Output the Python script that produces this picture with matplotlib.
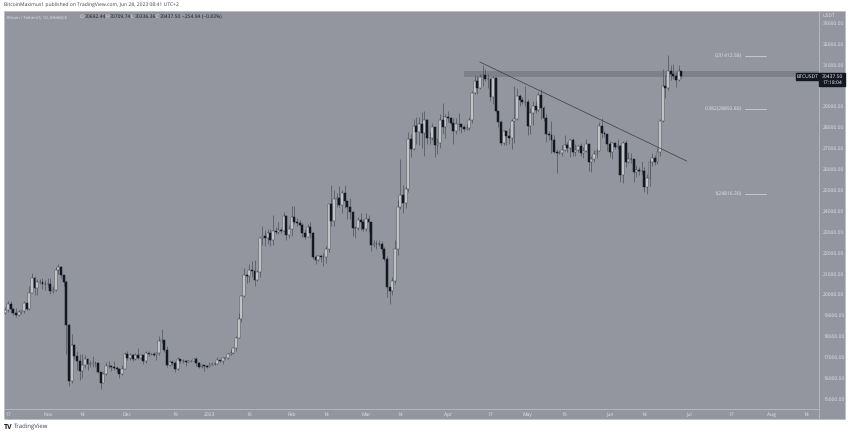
import numpy as np
import pandas as pd
import matplotlib
matplotlib.use("Agg")
import matplotlib.pyplot as plt
import matplotlib.dates as mdates
from matplotlib.patches import Rectangle

# daily candles, 2022-10-16 .. 2023-06-28 per month
close_oct = [19260, 19550, 19330, 19120, 19040, 19160, 19200, 19570, 19330, 20090, 20770, 20290, 20600, 20620, 20490, 20480]
high_oct = [19420, 19680, 19700, 19360, 19340, 19250, 19260, 19690, 19600, 20400, 21020, 20870, 20750, 20720, 20800, 20700]
low_oct = [19070, 19150, 19100, 19020, 18900, 18980, 19060, 19100, 19240, 19240, 20050, 20000, 20000, 20500, 20280, 20200]

close_nov = [20480, 20150, 20200, 21150, 21300, 20920, 20600, 18540, 15880, 17600, 17070, 16810, 16330, 16620, 16900, 16660, 16690, 16700, 16700, 16280, 15780, 16220, 16600, 16600, 16520, 16460, 16430, 16210, 16440, 17160]
high_nov = [20800, 20780, 20400, 21300, 21480, 21350, 20900, 20700, 18600, 18100, 17650, 17300, 17150, 17170, 17120, 16950, 16870, 17050, 16820, 16750, 16250, 16300, 16770, 16800, 16650, 16800, 16600, 16490, 16630, 17240]
low_nov = [20340, 20040, 20050, 20180, 21000, 20800, 20400, 17170, 15600, 15750, 16900, 16370, 15900, 16000, 16500, 16400, 16550, 16550, 16550, 16250, 15500, 15800, 16150, 16480, 16350, 16400, 16300, 16000, 16150, 16430]

close_dec = [16980, 17090, 16890, 17110, 16970, 17090, 16840, 17220, 17130, 17130, 17090, 17210, 17780, 17810, 17360, 16630, 16780, 16740, 16440, 16900, 16820, 16830, 16790, 16830, 16840, 16920, 16700, 16550, 16630, 16600, 16540]
high_dec = [17320, 17190, 17160, 17200, 17430, 17110, 16910, 17290, 17300, 17180, 17260, 17240, 18000, 18370, 17800, 17520, 16800, 16870, 16830, 17000, 16850, 16910, 16860, 16880, 16860, 16950, 16990, 16780, 16640, 16650, 16640]
low_dec = [16850, 16870, 16800, 16880, 16900, 16890, 16680, 16740, 17060, 17090, 17070, 16870, 17090, 17660, 17270, 16540, 16580, 16650, 16300, 16400, 16720, 16710, 16590, 16780, 16790, 16800, 16600, 16460, 16490, 16330, 16470]

close_jan = [16620, 16680, 16670, 16850, 16830, 16950, 16940, 17130, 17190, 17440, 17940, 18850, 19930, 20950, 20880, 21190, 21130, 20680, 21080, 22680, 22780, 22710, 22920, 22630, 23060, 23010, 23080, 23030, 23740, 22830, 23130]
high_jan = [16780, 16770, 16780, 16990, 16880, 17020, 16980, 17180, 17390, 17490, 18000, 19100, 20000, 21260, 21000, 21450, 21600, 21650, 21190, 22750, 23280, 23070, 23150, 23120, 23800, 23240, 23480, 23200, 23950, 23780, 23320]
low_jan = [16530, 16610, 16610, 16660, 16760, 16680, 16910, 16900, 17120, 17160, 17320, 17900, 18700, 19890, 20560, 20600, 20830, 20400, 20650, 20850, 22370, 22300, 22440, 22300, 22370, 22880, 22900, 22940, 23020, 22600, 22720]

close_feb = [23730, 23490, 23430, 23330, 22930, 22760, 23240, 22960, 21800, 21630, 21860, 21780, 21780, 22200, 24330, 23520, 24570, 24630, 24280, 24840, 24450, 24180, 23930, 23190, 23160, 23560, 23490, 23140]
high_feb = [24250, 24220, 23680, 23580, 23430, 23150, 23360, 23450, 23000, 21910, 21900, 21900, 21980, 22310, 24350, 25250, 24980, 24880, 25200, 25000, 25250, 24450, 24600, 23900, 23260, 23690, 23900, 23600]
low_feb = [22800, 23370, 23260, 23260, 22760, 22640, 22730, 22700, 21700, 21450, 21600, 21550, 21360, 21530, 22050, 23300, 23300, 24200, 24200, 23880, 24150, 23600, 23620, 22800, 22700, 23080, 23100, 23050]

close_mar = [23630, 23470, 22350, 22430, 22420, 22410, 22200, 21700, 20360, 20190, 20630, 22160, 24200, 24750, 24380, 25060, 27420, 26970, 28040, 27790, 28170, 27720, 28330, 27480, 27490, 28000, 27140, 27270, 28350, 28030, 28470]
high_mar = [23880, 23780, 23480, 22600, 22600, 22600, 22540, 22270, 21820, 20370, 20850, 22600, 24500, 26500, 25240, 25200, 27770, 27700, 28400, 28500, 28500, 28750, 28800, 28400, 27780, 28200, 28030, 27500, 28650, 29170, 28650]
low_mar = [23030, 23000, 22100, 22250, 22200, 22300, 21950, 21600, 19900, 19550, 20000, 20500, 21900, 24100, 23900, 24150, 24900, 26600, 26900, 27200, 27150, 27000, 26650, 27180, 27200, 27400, 26600, 26700, 27000, 27700, 27500]

close_apr = [28460, 28200, 27800, 28170, 28170, 28030, 27910, 27950, 28330, 29650, 30230, 29880, 30390, 30480, 30300, 30320, 29430, 30380, 28800, 28240, 27260, 27820, 27590, 27510, 28300, 28420, 29480, 29330, 29230, 29230]
high_apr = [28800, 28500, 28450, 28450, 28700, 28180, 28100, 28150, 28500, 29750, 30500, 30450, 30550, 31000, 30800, 30550, 30300, 30450, 30400, 28350, 28370, 27880, 27800, 27980, 28400, 30000, 29900, 29600, 29450, 30000]
low_apr = [28250, 28100, 27200, 27680, 27800, 27750, 27800, 27850, 27850, 28200, 29600, 29600, 29850, 30000, 30200, 29900, 29250, 29100, 28750, 28000, 27150, 27150, 27170, 27200, 26950, 27230, 28370, 29000, 29100, 29000]

close_may = [28070, 28670, 29020, 28840, 29530, 28900, 28450, 27690, 27630, 27390, 26800, 26780, 26780, 26920, 27170, 27030, 27400, 26820, 26890, 27110, 26750, 26850, 27220, 26330, 26470, 26720, 26870, 28080, 27740, 27700, 27210]
high_may = [29350, 28900, 29250, 29250, 29680, 29850, 29000, 28650, 27830, 28300, 27650, 26950, 26900, 27150, 27650, 27280, 27450, 27480, 27180, 27150, 27270, 27050, 27450, 27200, 26630, 26930, 26950, 28250, 28440, 27840, 27350]
low_may = [27650, 27680, 28100, 28700, 28800, 28400, 28300, 27300, 27380, 26750, 26750, 25820, 26720, 26620, 26850, 26800, 26560, 26650, 26650, 26830, 26640, 26550, 26800, 25900, 25880, 26330, 26530, 26850, 27500, 27550, 26850]

close_jun = [26820, 27250, 27070, 27120, 25730, 27230, 26340, 26500, 26480, 25840, 25940, 25900, 25900, 25120, 25590, 26340, 26510, 26340, 26840, 28310, 30000, 29890, 30690, 30530, 30470, 30270, 30690, 30437]
high_jun = [27350, 27300, 27300, 27450, 27130, 27350, 27380, 26800, 26780, 26500, 26200, 26080, 26400, 26100, 25750, 26480, 26770, 26690, 27000, 28400, 30800, 30500, 31450, 31000, 31050, 30650, 31000, 30710]
low_jun = [26600, 26500, 26950, 26950, 25400, 25350, 26100, 26300, 26300, 25400, 25600, 25700, 25750, 24900, 24800, 25170, 26170, 26200, 26250, 26650, 28250, 29400, 29800, 30280, 30300, 29950, 30200, 30340]

closes = close_oct + close_nov + close_dec + close_jan + close_feb + close_mar + close_apr + close_may + close_jun
highs = high_oct + high_nov + high_dec + high_jan + high_feb + high_mar + high_apr + high_may + high_jun
lows = low_oct + low_nov + low_dec + low_jan + low_feb + low_mar + low_apr + low_may + low_jun
first_open = 19100

y_ticks = list(range(15000, 34000, 1000))
x_tick_dates = ["2022-10-17", "2022-11-01", "2022-11-14", "2022-12-01", "2022-12-19", "2023-01-01", "2023-01-16", "2023-02-01",
                "2023-02-14", "2023-03-01", "2023-03-14", "2023-04-01", "2023-04-17", "2023-05-01", "2023-05-15", "2023-06-01",
                "2023-06-14", "2023-07-01", "2023-07-17", "2023-08-01", "2023-08-14"]
x_tick_labels = ["17", "Nov", "14", "Dec", "19", "2023", "16", "Feb", "14", "Mar", "14", "Apr", "17", "May", "15", "Jun", "14", "Jul", "17", "Aug", "14"]

band_start = "2023-04-07"
band_low, band_high = 30392, 30694
trend_dates = ["2023-04-13", "2023-06-30"]
trend_prices = [31124, 26388]
fib_labels = ["0(31412.58)", "0.382(28892.80)", "1(24816.30)"]
fib_prices = [31412.58, 28892.80, 24816.30]
fib_dates = ["2023-07-22", "2023-07-30"]
last_price = 30437.50

W, H = 850, 434
PANEL = "#93969f"
GRID = "#b5b8c0"
LIGHT = "#e4e5e9"
DARK = "#131722"
FS = 3.5


def fx(px):
    return px / W


def fy(px):
    return 1 - px / H


def day(s):
    return mdates.date2num(pd.Timestamp(s))


plt.rcParams["font.family"] = "Open Sans"
plt.rcParams["text.hinting"] = "no_hinting"
plt.rcParams["text.hinting_factor"] = 1

fig = plt.figure(figsize=(W / 100, H / 100), dpi=100, facecolor="white")
fig.add_artist(Rectangle((fx(4), fy(419)), fx(841), 408 / H, transform=fig.transFigure, facecolor=PANEL, edgecolor=GRID, lw=0.4, zorder=-1))

left, right, top, bottom = 4, 819, 11, 409
ax = fig.add_axes([fx(left), fy(bottom), fx(right - left), (bottom - top) / H], zorder=1)
ax.patch.set_alpha(0)

# scales: 2.651 px per day with Oct 17 at x=8, 20.9 px per 1000 with 15000 at y=399
x0 = day("2022-10-17")
ax.set_xlim(x0 - (8 - left) / 2.651, x0 + (right - 8) / 2.651)
ax.set_ylim(15000 - (bottom - 399) / 0.0209, 15000 + (399 - top) / 0.0209)

dates = mdates.date2num(pd.date_range("2022-10-16", periods=len(closes), freq="D"))
closes = np.array(closes, dtype=float)
opens = np.r_[first_open, closes[:-1]]
up = closes >= opens

# wicks then bodies
ax.vlines(dates, lows, highs, color="#555862", lw=0.55, zorder=2)
ax.bar(dates[up], (closes - opens)[up], bottom=opens[up], width=0.72, color="#ededed", edgecolor="#3a3d46", lw=0.35, zorder=3)
ax.bar(dates[~up], (closes - opens)[~up], bottom=opens[~up], width=0.72, color=DARK, edgecolor=DARK, lw=0.35, zorder=3)

# resistance band and descending trend line
xlim = ax.get_xlim()
ax.axhspan(band_low, band_high, xmin=(day(band_start) - xlim[0]) / (xlim[1] - xlim[0]), color="#7e8189", lw=0, zorder=1)
ax.plot([day(d) for d in trend_dates], trend_prices, color="#3a3c45", lw=0.5, zorder=4)

# fib levels
for lab, p in zip(fib_labels, fib_prices):
    ax.plot([day(d) for d in fib_dates], [p, p], color="#d8dae0", lw=0.5, zorder=2)
    ax.annotate(lab, (day(fib_dates[0]), p), xytext=(-3, 0), textcoords="offset pixels", ha="right", va="center", fontsize=FS, color=LIGHT)

ax.set_yticks(y_ticks)
ax.set_yticklabels([f"{v:.2f}" for v in y_ticks])
ax.yaxis.tick_right()
ax.set_xticks([day(d) for d in x_tick_dates])
ax.set_xticklabels(x_tick_labels)
ax.tick_params(axis="y", length=0, pad=3, labelsize=FS, labelcolor=LIGHT)
ax.tick_params(axis="x", length=0, pad=2.5, labelsize=FS, labelcolor=LIGHT)
for side in ("top", "left"):
    ax.spines[side].set_visible(False)
for side in ("right", "bottom"):
    ax.spines[side].set_color(GRID)
    ax.spines[side].set_linewidth(0.7)

# vertical axis line runs on through the time strip
fig.add_artist(plt.Line2D([fx(right)] * 2, [fy(409), fy(419)], color=GRID, lw=0.7))

# last price tags
tag_y = 1 - (399 - (last_price - 15000) * 0.0209) / H
fig.add_artist(Rectangle((fx(796), tag_y - 3.5 / H), fx(22.5), 7 / H, transform=fig.transFigure, color=DARK, zorder=5))
fig.add_artist(Rectangle((fx(819), tag_y - 10 / H), fx(26), 13.5 / H, transform=fig.transFigure, color=DARK, zorder=5))
fig.text(fx(807.3), tag_y, "BTCUSDT", ha="center", va="center", fontsize=FS, color="white", zorder=6)
fig.text(fx(832), tag_y, f"{last_price:.2f}", ha="center", va="center", fontsize=FS, color="white", zorder=6)
fig.text(fx(832), tag_y - 6.3 / H, "17:18:04", ha="center", va="center", fontsize=FS, color="white", zorder=6)

fig.text(fx(823), fy(16), "USDT", ha="left", va="center", fontsize=FS, color=LIGHT, zorder=6)

# header text
fig.text(fx(4), fy(6), "BitcoinMaximus1 published on TradingView.com, Jun 28, 2023 08:41 UTC+2", ha="left", va="center", fontsize=FS, color="#3c3f48")
fig.text(fx(7), fy(17), "Bitcoin / TetherUS, 1D, BINANCE", ha="left", va="center", fontsize=3.2, color=LIGHT, zorder=6)
legend_bits = [(80, "O", LIGHT), (84.5, "30692.44", DARK), (105.7, "H", LIGHT), (110, "30709.74", DARK), (131, "L", LIGHT),
               (135, "30336.36", DARK), (156, "C", LIGHT), (160, "30437.50", DARK), (182.5, "\u2212254.94 (\u22120.83%)", DARK)]
for x, s, c in legend_bits:
    fig.text(fx(x), fy(17), s, ha="left", va="center", fontsize=FS, color=c, zorder=6)

# footer logo
fig.text(fx(4), fy(427), "TV", ha="left", va="center", fontsize=5, fontweight="bold", color=DARK)
fig.text(fx(14), fy(427), "TradingView", ha="left", va="center", fontsize=4, color="#3c3f48")

fig.savefig("out.png", dpi=100)
